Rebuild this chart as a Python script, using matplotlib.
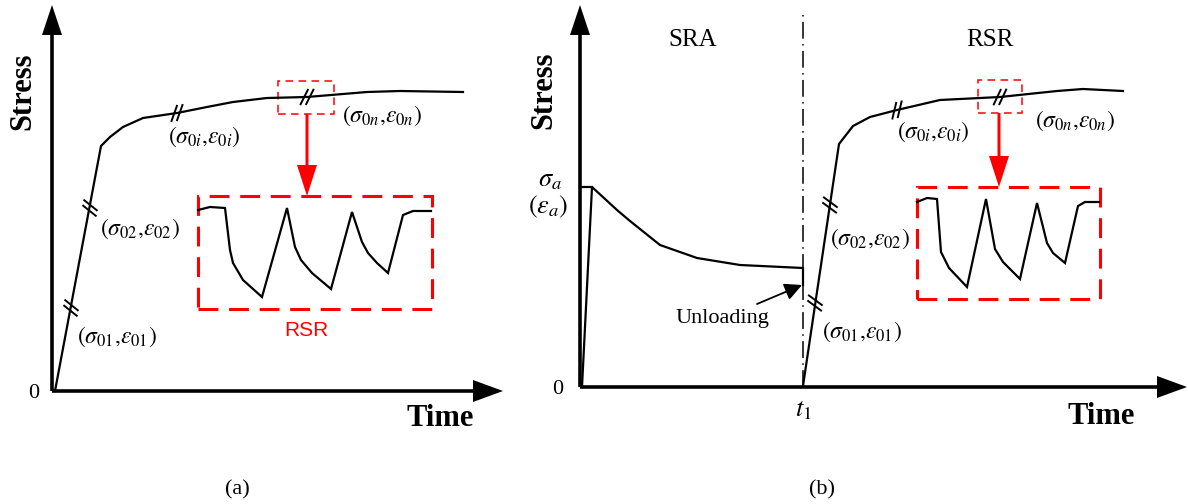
import numpy as np
import matplotlib.pyplot as plt
from matplotlib.patches import Rectangle

plt.rcParams['font.family'] = ['Liberation Serif', 'DejaVu Serif']
plt.rcParams['mathtext.fontset'] = 'stix'

# ---- panel (a): stress relaxation curve, time/stress in drawing units ----
a_time = [3, 49, 58, 71, 91, 125, 155, 181, 215, 255, 315, 348, 411]
a_stress = [0, 245, 254, 264, 273, 278, 284, 289, 293, 294, 299, 300, 299]
a_breaks = [(19, 83), (38, 183), (125, 278), (255, 294)]
a_labels = [r'$(\sigma_{01}{,}\varepsilon_{01})$', r'$(\sigma_{02}{,}\varepsilon_{02})$',
            r'$(\sigma_{0i}{,}\varepsilon_{0i})$', r'$(\sigma_{0n}{,}\varepsilon_{0n})$']
a_label_pos = [(65, 54), (88, 162), (152, 254), (330, 275)]
# zoomed relaxation cycles (RSR)
a_rsr_time = [146, 158, 173, 178, 181, 191, 210, 235, 243, 249, 260, 279,
              300, 310, 316, 325, 336, 351, 361, 379]
a_rsr_stress = [181, 184, 183, 141, 128, 111, 94, 183, 144, 131, 118, 102,
                179, 149, 138, 128, 118, 176, 180, 180]

# ---- panel (b): SRA followed by RSR ----
b_sra_time = [0, 2, 12, 37, 50, 80, 117, 160, 223, 223]
b_sra_stress = [200, 0, 200, 177, 166, 142, 129, 122, 119, 102]
b_peak = (12, 200)
b_t1 = 223
b_time = [223, 259, 273, 290, 317, 360, 420, 477, 503, 543]
b_stress = [1, 243, 261, 270, 277, 287, 290, 296, 298, 296]
b_breaks = [(235, 84), (250, 182), (317, 277), (420, 290)]
b_label_pos = [(282, 55), (290, 148), (353, 255), (495, 266)]
b_rsr_time = [337, 347, 357, 361, 369, 387, 406, 415, 423, 440, 457, 467,
              473, 485, 498, 505, 519]
b_rsr_stress = [185, 189, 188, 135, 119, 100, 188, 138, 125, 108, 184, 144,
                134, 124, 181, 185, 185]

W, H = 1188, 504
RED = '#ff0000'


def axes_arrows(ax, x_len, y_len):
    ax.arrow(0, 0, x_len, 0, width=3.6, head_width=22, head_length=30,
             length_includes_head=True, color='black', lw=0)
    ax.arrow(0, 0, 0, y_len, width=3.6, head_width=20, head_length=30,
             length_includes_head=True, color='black', lw=0)


def break_marks(ax, t, s, curve_t, curve_s):
    # tangent of the curve segment holding the point
    pts = np.column_stack([curve_t, curve_s]).astype(float)
    best, tang = 1e9, np.array([1.0, 0.0])
    for p0, p1 in zip(pts[:-1], pts[1:]):
        seg = p1 - p0
        if np.hypot(*seg) == 0:
            continue
        u = np.clip(np.dot([t, s] - p0, seg) / np.dot(seg, seg), 0, 1)
        d = np.hypot(*(p0 + u * seg - [t, s]))
        if d < best:
            best, tang = d, seg / np.hypot(*seg)
    ang = np.arctan2(tang[1], tang[0]) + np.deg2rad(62)
    m = np.array([np.cos(ang), np.sin(ang)]) * 9
    for k in (-2.8, 2.8):
        c = np.array([t, s]) + k * tang
        ax.plot([c[0] - m[0], c[0] + m[0]], [c[1] - m[1], c[1] + m[1]],
                color='black', lw=1.4, solid_capstyle='butt')


def rsr_inset(ax, box, tt, ss, arrow_t, small_box):
    x0, y0, w, h = small_box
    ax.add_patch(Rectangle((x0, y0), w, h, fill=False, ec=RED, lw=1.1,
                           ls=(0, (5, 3.5))))
    bx, by, bw, bh = box
    ax.arrow(arrow_t, y0, 0, (by + bh) - y0, width=3, head_width=20,
             head_length=31, length_includes_head=True, color=RED, lw=0)
    ax.add_patch(Rectangle((bx, by), bw, bh, fill=False, ec=RED, lw=2.2,
                           ls=(0, (6.5, 3.5))))
    ax.plot(tt, ss, color='black', lw=1.6, solid_joinstyle='miter')


fig = plt.figure(figsize=(W / 100, H / 100), dpi=100)

# panel (a)
ax_a = fig.add_axes([0, 0, 510 / W, 1])
ax_a.set_xlim(-52, 458)
ax_a.set_ylim(-113, 391)
ax_a.axis('off')
axes_arrows(ax_a, 451, 386)
ax_a.plot(a_time, a_stress, color='black', lw=1.6)
for bt, bs in a_breaks:
    break_marks(ax_a, bt, bs, a_time, a_stress)
for lab, (lt, ls) in zip(a_labels, a_label_pos):
    ax_a.text(lt, ls, lab, fontsize=17, ha='center', va='center')
rsr_inset(ax_a, (146, 82, 234, 113), a_rsr_time, a_rsr_stress, 255,
          (226, 277, 56, 33))
ax_a.text(254, 60, 'RSR', color=RED, fontsize=15, family='Liberation Sans',
          ha='center', va='center')
ax_a.text(-18, -2, '0', fontsize=16, ha='center', va='center')
ax_a.text(-29, 300, 'Stress', fontsize=22, weight='bold', rotation=90,
          ha='center', va='center')
ax_a.text(388, -27, 'Time', fontsize=22, weight='bold', ha='center', va='center')
ax_a.text(185, -99, '(a)', fontsize=16, ha='center', va='center')

# panel (b)
ax_b = fig.add_axes([510 / W, 0, 678 / W, 1])
ax_b.set_xlim(-70, 608)
ax_b.set_ylim(-117, 387)
ax_b.axis('off')
axes_arrows(ax_b, 607, 382)
ax_b.plot([0, b_peak[0]], [b_peak[1], b_peak[1]], color='black', lw=1.6)
ax_b.plot(b_sra_time[1:], b_sra_stress[1:], color='black', lw=1.6)
ax_b.plot([b_t1, b_t1], [0, 374], color='black', lw=1.1,
          ls=(0, (11, 3.5, 1, 3.5)))
ax_b.plot(b_time, b_stress, color='black', lw=1.6)
for bt, bs in b_breaks:
    break_marks(ax_b, bt, bs, b_time, b_stress)
for lab, (lt, ls) in zip(a_labels, b_label_pos):
    ax_b.text(lt, ls, lab, fontsize=17, ha='center', va='center')
rsr_inset(ax_b, (337, 88, 183, 112), b_rsr_time, b_rsr_stress, 419,
          (398, 274, 44, 33))
ax_b.annotate('', xy=(b_t1 - 1, b_sra_stress[-1]), xytext=(177, 83),
              arrowprops=dict(arrowstyle='-|>', color='black', lw=1.3,
                              mutation_scale=26, shrinkA=0, shrinkB=0))
ax_b.text(142, 69, 'Unloading', fontsize=16, ha='center', va='center')
ax_b.text(-30, 206, r'$\sigma_a$', fontsize=19, ha='center', va='center')
ax_b.text(-32, 180, r'$(\varepsilon_a)$', fontsize=19, ha='center', va='center')
ax_b.text(-22, -3, '0', fontsize=16, ha='center', va='center')
ax_b.text(b_t1, -24, r'$t_1$', fontsize=19, ha='center', va='center')
ax_b.text(113, 347, 'SRA', fontsize=18, ha='center', va='center')
ax_b.text(410, 347, 'RSR', fontsize=18, ha='center', va='center')
ax_b.text(-36, 297, 'Stress', fontsize=22, weight='bold', rotation=90,
          ha='center', va='center')
ax_b.text(521, -29, 'Time', fontsize=22, weight='bold', ha='center', va='center')
ax_b.text(242, -103, '(b)', fontsize=16, ha='center', va='center')

fig.savefig('out.png', dpi=100)
